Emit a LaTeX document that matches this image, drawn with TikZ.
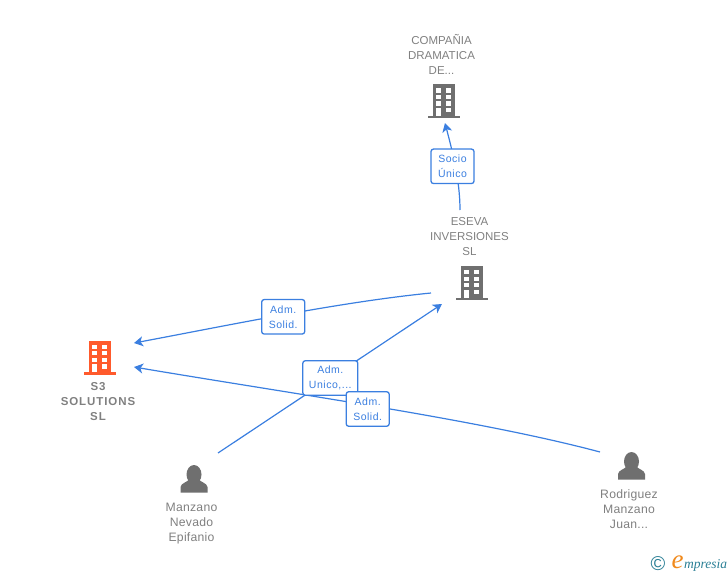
\documentclass[tikz,border=0pt]{standalone}
\usepackage{fontspec}
\setmainfont{Liberation Sans}
\newfontfamily\logofont{Liberation Serif}
\usetikzlibrary{arrows.meta}
\definecolor{linkblue}{HTML}{3B7FE0}
\definecolor{iconGray}{HTML}{6F6F6F}
\definecolor{iconOrange}{HTML}{FF5A2C}
\definecolor{nameGray}{HTML}{808080}
\definecolor{logoTeal}{HTML}{2A7F95}
\definecolor{logoOrange}{HTML}{F08A1D}
\tikzset{
  company/.style={align=center, text=nameGray, inner sep=0pt, font=\fontsize{11.5}{15}\selectfont},
  people/.style={company, font=\fontsize{12.2}{15}\selectfont\addfontfeatures{LetterSpace=2}},
  relbox/.style={draw=linkblue, line width=1.3pt, fill=white, rounded corners=2.5pt, align=center, text=linkblue,
    inner sep=0pt, minimum height=34.5pt, font=\fontsize{10.5}{15}\selectfont\addfontfeatures{LetterSpace=5}},
  rel/.style={draw=linkblue, line width=1.2pt},
  relarrow/.style={rel, -{Stealth[length=9pt, width=10pt, inset=2.5pt]}},
  building/.pic={
    \fill[pic actions] (-11,-34) rectangle (11,-1);
    \fill[pic actions] (-16,-2.5) rectangle (16,0);
    \foreach \wy in {-30,-23.5,-17} {
      \fill[white] (-8,\wy) rectangle (-3,\wy+4.2);
      \fill[white] (2,\wy) rectangle (7,\wy+4.2);
    }
    \fill[white] (-8,-10.5) rectangle (-3,-2.5);
    \fill[white] (2,-10.5) rectangle (7,-6);
  },
  person/.pic={
    \fill[pic actions] (0,9.5) ellipse (7.5 and 9.5);
    \fill[pic actions] (-13.5,27.5) -- (-13.5,22) .. controls (-13,18) and (-7,17.5) .. (-4.5,14)
      -- (4.5,14) .. controls (7,17.5) and (13,18) .. (13.5,22) -- (13.5,27.5) -- cycle;
  }
}
\begin{document}
\begin{tikzpicture}[x=1pt, y=-1pt]
\useasboundingbox (0,0) rectangle (728,575);
% names
\node[company] (compania) at (441.5,54) {COMPAÑIA\\DRAMATICA\\DE...};
\node[company] (eseva) at (469.5,237) {ESEVA\\INVERSIONES\\SL};
\node[company, font=\fontsize{11.5}{15}\selectfont\bfseries\addfontfeatures{LetterSpace=8}] (s3) at (98,402) {S3\\SOLUTIONS\\SL};
\node[people] (manzano) at (191.5,524) {Manzano\\Nevado\\Epifanio};
\node[people] (rodriguez) at (629,509) {Rodriguez\\Manzano\\Juan...};
% icons
\pic[fill=iconGray] at (444,118.5) {building};
\pic[fill=iconGray] at (472,300) {building};
\pic[fill=iconOrange] at (100,374.5) {building};
\pic[fill=iconGray] at (194,465) {person};
\pic[fill=iconGray] at (631.5,452) {person};
% free ends
\coordinate (esevaup) at (460,210);
\coordinate (companiadown) at (445,123);
\coordinate (esevaleft) at (431,293);
\coordinate (s3upper) at (134,343);
\coordinate (s3lower) at (134,367);
\coordinate (manzanoup) at (218,453);
\coordinate (esevadown) at (442,304);
\coordinate (rodriguezup) at (600,452);
% links
\draw[relarrow] (esevaup) .. controls (460,180) and (452,150) .. (companiadown);
\draw[relarrow] (esevaleft) .. controls (340,302) and (230,325) .. (s3upper);
\draw[relarrow] (manzanoup) -- (esevadown);
\draw[relarrow] (rodriguezup) .. controls (480,420) and (300,395) .. (s3lower);
% link labels
\node[relbox, minimum width=43pt] (socio) at (452.5,166.3) {Socio\\Único};
\node[relbox, minimum width=43pt] (solida) at (283.2,316.8) {Adm.\\Solid.};
\node[relbox, minimum width=55pt] (unico) at (330.3,378) {Adm.\\Unico,...};
\node[relbox, minimum width=43pt] (solidb) at (367.7,409) {Adm.\\Solid.};
% logo
\node[inner sep=0pt, text=logoTeal, font=\fontsize{20}{20}\selectfont] (logoc) at (658,564) {©};
\node[inner sep=0pt, text=logoOrange, font=\logofont\fontsize{27}{27}\selectfont\itshape] (logoe) at (677.5,562) {e};
\node[inner sep=0pt, anchor=west, text=logoTeal, font=\logofont\fontsize{13.5}{15}\selectfont\itshape] (logotxt) at (684,565) {mpresia};
\end{tikzpicture}
\end{document}
